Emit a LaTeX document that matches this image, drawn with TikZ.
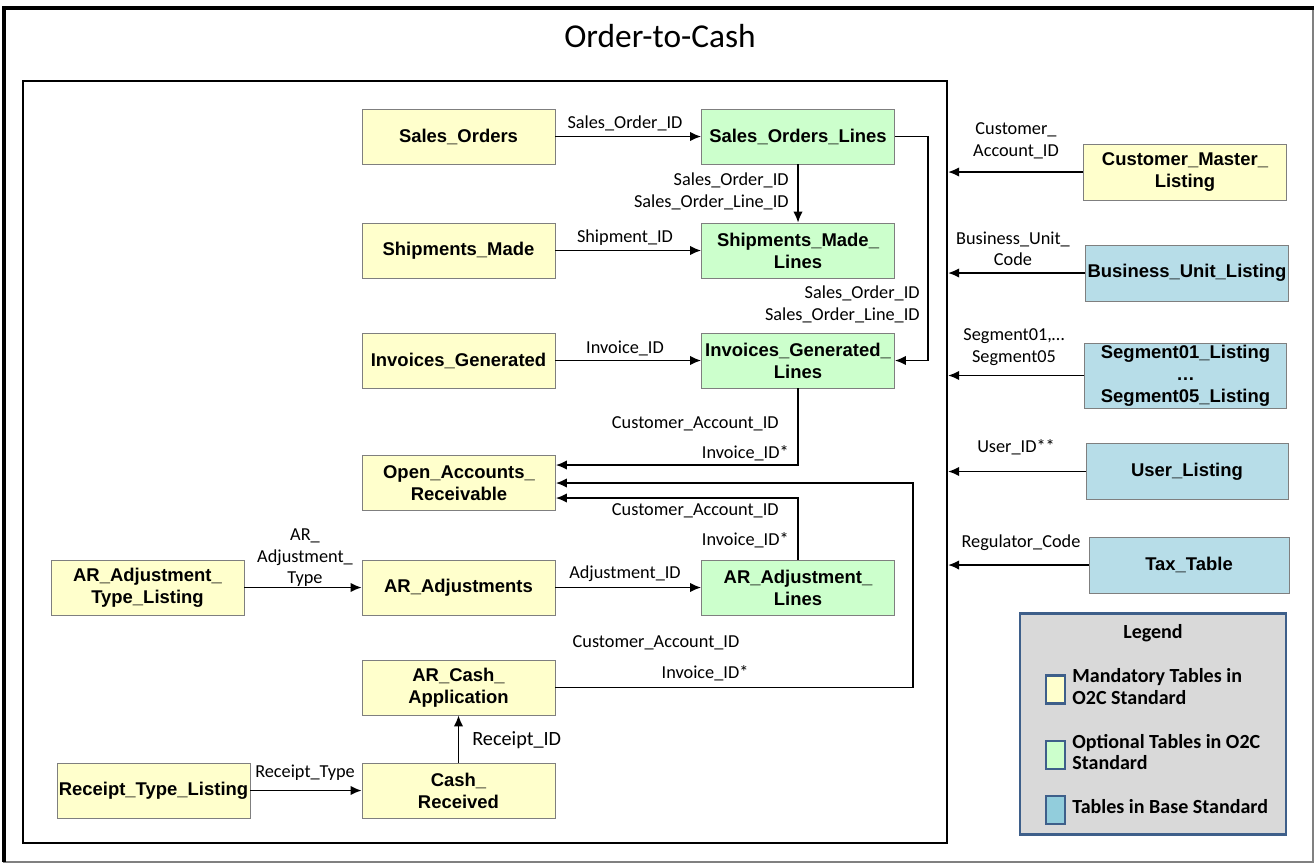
\documentclass[tikz,border=0pt]{standalone}
\usepackage{fontspec}
\setmainfont{Carlito}
\newfontfamily\tblfont{Liberation Sans}
\usetikzlibrary{arrows.meta}

\definecolor{mandatory}{HTML}{FFFFCC}
\definecolor{optional}{HTML}{CCFFCC}
\definecolor{basetbl}{HTML}{B7DDE8}
\definecolor{baseswatch}{HTML}{92CDDC}
\definecolor{boxline}{HTML}{7F7F7F}
\definecolor{legendbg}{HTML}{D9D9D9}
\definecolor{legendline}{HTML}{3E5F8A}

\begin{document}
\begin{tikzpicture}[x=0.2mm,y=-0.2mm,>={Latex[length=2.2mm,width=1.9mm]}]
  \tikzstyle{tbl}=[draw=boxline,minimum width=38.6mm,minimum height=11mm,align=center,inner sep=1pt,
                   font={\tblfont\bfseries\fontsize{10.5}{12.6}\selectfont}]
  \tikzstyle{reftbl}=[tbl,fill=basetbl,minimum width=40.4mm,minimum height=11.2mm]
  \tikzstyle{key}=[inner sep=0pt,align=center,font={\fontsize{10.4}{12.2}\selectfont}]
  \tikzstyle{link}=[->,line width=1pt]
  \tikzstyle{swatch}=[draw=legendline,line width=1.2pt,minimum width=3.8mm,minimum height=5.6mm,inner sep=0pt]
  \tikzstyle{legtext}=[anchor=west,inner sep=0pt,align=left,font={\bfseries\fontsize{11.4}{12}\selectfont}]
  \useasboundingbox (0,0) rectangle (1315,865);
% page frame and title
  \draw[draw=gray,line width=0.6pt] (4,8) rectangle (1313,862);
  \draw[line width=0.8mm] (4,862) -- (4,8) -- (1314,8);
  \node[inner sep=0pt,font={\fontsize{19}{22}\selectfont}] (title) at (660,36) {Order-to-Cash};
  \node[draw,line width=1.2pt,minimum width=184.8mm,minimum height=152.4mm] (panel) at (485,462) {};
% O2C tables
  \node[tbl,fill=mandatory] (so)    at (458.5,136.5) {Sales\_Orders};
  \node[tbl,fill=optional]  (sol)   at (798,136.5)   {Sales\_Orders\_Lines};
  \node[tbl,fill=mandatory] (sm)    at (458.5,250.5) {Shipments\_Made};
  \node[tbl,fill=optional]  (sml)   at (798,250.5)   {Shipments\_Made\_\\Lines};
  \node[tbl,fill=mandatory] (ig)    at (458.5,360.5) {Invoices\_Generated};
  \node[tbl,fill=optional]  (igl)   at (798,360.5)   {Invoices\_Generated\_\\Lines};
  \node[tbl,fill=mandatory] (oar)   at (459,483)     {Open\_Accounts\_\\Receivable};
  \node[tbl,fill=mandatory] (aratl) at (147.5,587.5) {AR\_Adjustment\_\\Type\_Listing};
  \node[tbl,fill=mandatory] (ara)   at (458.5,587.5) {AR\_Adjustments};
  \node[tbl,fill=optional]  (aral)  at (798,587.5)   {AR\_Adjustment\_\\Lines};
  \node[tbl,fill=mandatory] (arca)  at (458.5,687.5) {AR\_Cash\_\\Application};
  \node[tbl,fill=mandatory] (rtl)   at (153.5,790.5) {Receipt\_Type\_Listing};
  \node[tbl,fill=mandatory] (cr)    at (458.5,790.5) {Cash\_\\Received};
  \draw[link] (so) -- (sol);
  \node[key] (soid)  at (625,123) {Sales\_Order\_ID};
  \draw[link] (sm) -- (sml);
  \node[key] (shid)  at (625,238) {Shipment\_ID};
  \draw[link] (ig) -- (igl);
  \node[key] (invid) at (625,348) {Invoice\_ID};
  \draw[link] (ara) -- (aral);
  \node[key] (adjid) at (625,574) {Adjustment\_ID};
  \draw[link] (aratl) -- (ara);
  \node[key] (adjty) at (305,558) {AR\_\\Adjustment\_\\Type};
  \draw[link] (rtl) -- (cr);
  \node[key] (rcpty) at (305,773) {Receipt\_Type};
  \draw[link] (cr) -- (arca);
  \node[key,anchor=west,font={\fontsize{11.5}{13}\selectfont}] (rcpid) at (472,740) {Receipt\_ID};
  \draw[link] (sol) -- (sml);
  \node[key,anchor=east,align=right] (solid1) at (789,191.5) {Sales\_Order\_ID\\Sales\_Order\_Line\_ID};
  \draw[link] (sol.east) -- (928,136.5) |- (igl.east);
  \node[key,anchor=east,align=right] (solid2) at (920,304.5) {Sales\_Order\_ID\\Sales\_Order\_Line\_ID};
% everything feeding the open receivables
  \draw[link] (igl.south) |- ([yshift=3.6mm]oar.east);
  \node[key,anchor=east] (cust1) at (779,424) {Customer\_Account\_ID};
  \node[key,anchor=east] (inv1)  at (789,453) {Invoice\_ID*};
  \draw[link] (aral.north) |- ([yshift=-3mm]oar.east);
  \node[key,anchor=east] (cust2) at (779,511) {Customer\_Account\_ID};
  \node[key,anchor=east] (inv2)  at (789,540) {Invoice\_ID*};
  \draw[link] (arca.east) -- (913,687.5) -- (913,483) -- (oar.east);
  \node[key] (cust3) at (656,643) {Customer\_Account\_ID};
  \node[key] (inv3)  at (705,673) {Invoice\_ID*};
% base standard tables on the right
  \node[reftbl,fill=mandatory,minimum width=40.6mm] (cml) at (1185,172)   {Customer\_Master\_\\Listing};
  \node[reftbl]                (bul) at (1187,273)   {Business\_Unit\_Listing};
  \node[reftbl,minimum height=13mm,inner sep=0pt] (seg) at (1185.5,375.5) {Segment01\_Listing\\\ldots\\Segment05\_Listing};
  \node[reftbl]                (ul)  at (1187,471.5) {User\_Listing};
  \node[reftbl,minimum width=40mm] (tt) at (1189,565) {Tax\_Table};
  \foreach \src in {cml,bul,seg,ul,tt}{
    \draw[link] (\src.west) -- (\src.west -| panel.east);
  }
  \node[key] (custacc) at (1016,141) {Customer\_\\Account\_ID};
  \node[key] (bucode)  at (1013,249) {Business\_Unit\_\\Code};
  \node[key] (segs)    at (1014,347) {Segment01,\ldots\\Segment05};
  \node[key] (userid)  at (1016,447) {User\_ID**};
  \node[key] (regcode) at (1021,543) {Regulator\_Code};
% legend
  \node[draw=legendline,line width=1.2pt,fill=legendbg,minimum width=53.2mm,minimum height=44.2mm] (legend) at (1153,724) {};
  \node[inner sep=0pt,font={\bfseries\fontsize{11.4}{13}\selectfont}] (legtitle) at (1153,633) {Legend};
  \node[swatch,fill=mandatory]  (swm) at (1055.5,689.5) {};
  \node[swatch,fill=optional]   (swo) at (1055.5,755)   {};
  \node[swatch,fill=baseswatch] (swb) at (1055.5,810)   {};
  \node[legtext] (legm) at (1072,686.5) {Mandatory Tables in\\O2C Standard};
  \node[legtext] (lego) at (1072,752)   {Optional Tables in O2C\\Standard};
  \node[legtext] (legb) at (1072,807)   {Tables in Base Standard};
\end{tikzpicture}
\end{document}
